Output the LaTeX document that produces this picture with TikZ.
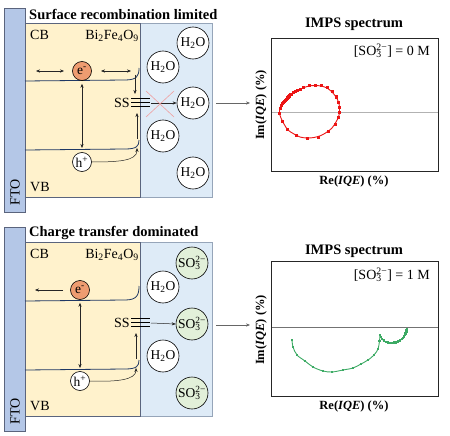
\documentclass[tikz,border=0pt]{standalone}
\usepackage{fontspec}
\setmainfont{Liberation Serif}
\usetikzlibrary{arrows.meta}
\definecolor{ftoblue}{RGB}{180,199,231}
\definecolor{ftoedge}{RGB}{90,100,125}
\definecolor{ybox}{RGB}{255,242,204}
\definecolor{bbox}{RGB}{222,235,247}
\definecolor{bedge}{RGB}{150,165,185}
\definecolor{band}{RGB}{31,56,100}
\definecolor{eorange}{RGB}{238,156,112}
\definecolor{sogreen}{RGB}{226,240,217}
\definecolor{crossred}{RGB}{240,160,160}
\definecolor{curvered}{RGB}{236,20,20}
\definecolor{curvegreen}{RGB}{60,170,100}
\newcommand\ionss[2]{\rlap{\textsubscript{#1}}\textsuperscript{#2}}
\tikzset{
  lbl/.style={font=\fontsize{14}{16}\selectfont, inner sep=0},
  ttl/.style={font=\fontsize{14.5}{17}\selectfont\bfseries, inner sep=0},
  axl/.style={font=\fontsize{12.5}{15}\selectfont\bfseries, inner sep=0},
  mol/.style={circle, draw=black, line width=0.6pt, fill=white, minimum size=32pt, inner sep=0, font=\fontsize{13.5}{15}\selectfont},
  ion/.style={mol, fill=sogreen},
  carrier/.style={circle, draw=black, line width=0.6pt, minimum size=19pt, inner sep=0, font=\fontsize{13.5}{15}\selectfont},
  arr/.style={-{Stealth[length=4pt,width=3.2pt]}, line width=0.5pt, black!85},
  darr/.style={{Stealth[length=4pt,width=3.2pt]}-{Stealth[length=4pt,width=3.2pt]}, line width=0.5pt, black!85},
  bandline/.style={band, line width=0.8pt},
  plotbox/.style={draw=black!85, line width=0.9pt, inner sep=0},
  ssline/.style={line width=0.8pt, black}
}
\begin{document}
\begin{tikzpicture}[x=1pt,y=-1pt]
\useasboundingbox (0,0) rectangle (450,436);
% ================= TOP PANEL =================
\node[ttl, anchor=west] (ttitle) at (29,14) {Surface recombination limited};
\fill[bbox] (140,23) rectangle (212,197);
\draw[bedge, line width=0.5pt] (140,23) rectangle (212,197);
\fill[ybox] (25,23) rectangle (140,197);
\draw[ftoedge, line width=0.8pt] (25,23) rectangle (140,197);
\draw[ftoedge, line width=0.8pt, fill=ftoblue] (4,8) rectangle (25,212);
\node[lbl, rotate=90] (tfto) at (15,192) {FTO};
\node[lbl, anchor=west] (tcb) at (30,35) {CB};
\node[lbl, anchor=west] (tvb) at (30,187) {VB};
\node[lbl, anchor=east] (tbfo) at (139,36) {Bi\textsubscript{2}Fe\textsubscript{4}O\textsubscript{9}};
\draw[bandline] (25,81) -- (125,80) .. controls (137,80) and (139,76) .. (139,68);
\draw[bandline] (25,150) -- (125,149) .. controls (137,149) and (139,146) .. (139,140);
\node[carrier, fill=eorange] (te) at (82,71) {e\textsuperscript{-}};
\node[carrier, fill=white] (th) at (82,162) {h\textsuperscript{+}};
\coordinate (teL) at (36,71);
\coordinate (teLi) at (64,71);
\coordinate (teR) at (131,71);
\coordinate (teRi) at (101,71);
\draw[darr] (teL) -- (teLi);
\draw[darr] (teRi) -- (teR);
\draw[darr] (te.south) ++(0,3) -- (82,148);
\node[lbl] (tss) at (122,103) {SS};
\draw[ssline] (131,98.5) -- (150,98.5);
\draw[ssline] (131,102.5) -- (150,102.5);
\draw[ssline] (131,106.5) -- (150,106.5);
\coordinate (tssR) at (151,103);
\coordinate (tcbdn) at (135,75);
\coordinate (tssT) at (135,94);
\draw[arr] (tcbdn) -- (tssT);
\coordinate (tvbup) at (137,139);
\coordinate (tssB) at (137,113);
\draw[arr] (tvbup) -- (tssB);
\draw[arr] (th.east) .. controls (118,162) and (137,161) .. (137,148);
\node[mol] (tw1) at (193,43) {H\textsubscript{2}O};
\node[mol] (tw2) at (163,67) {H\textsubscript{2}O};
\node[mol] (tw3) at (193,103) {H\textsubscript{2}O};
\node[mol] (tw4) at (163,136) {H\textsubscript{2}O};
\node[mol] (tw5) at (193,173) {H\textsubscript{2}O};
\draw[arr] (tssR) -- (tw3.west);
\draw[crossred, line width=0.6pt] (146,91) -- (174,117) (146,117) -- (174,91);
\coordinate (tarA) at (216,103);
\coordinate (tarB) at (250,103);
\draw[arr, black!60] (tarA) -- (tarB);
% top plot
\node[ttl] (tptitle) at (354,24) {IMPS spectrum};
\draw[black!30, line width=0.8pt] (271,112) -- (438,112);
\node[plotbox, minimum width=167pt, minimum height=133pt] (tplot) at (354.5,104.5) {};
\node[lbl, anchor=east] (tconc) at (430,51) {[SO\ionss{3}{2−}] = 0 M};
\node[axl, rotate=90] (tylab) at (261,105) {Im(\textit{IQE}) (\%)};
\node[axl] (txlab) at (354,181) {Re(\textit{IQE}) (\%)};
\draw[curvered, line width=0.9pt] plot[smooth cycle, tension=0.55] coordinates {
 (280,108) (282,103) (285,100) (288,97) (293,93) (297,91) (303,88) (309,86) (315,85.5) (321,86) (327,88) (332,92) (336,97) (338.5,102) (339.5,107) (339.5,112) (338.5,117) (336,122) (332,128) (327,132) (321,135.5) (314,137.5) (307,138) (300,137) (294,134) (288,130) (284,124) (281,118) (279.5,113)};
\foreach \px/\py in {280/108, 281/105, 282/103, 283/102, 284/101, 285/100, 286/99, 287/98, 288/97, 289/96, 290/95, 291/94.5, 293/93, 295/92, 297/91, 300/89.5, 303/88, 309/86, 315/85.5, 321/86, 327/88, 332/92, 336/97, 338.5/102, 339.5/107, 339.5/112, 338.5/117, 335/124, 328/131, 318/137, 307/138, 296/135, 287/129, 282/121, 279.5/113}
  \fill[curvered] (\px-1.5,\py-1.5) rectangle (\px+1.5,\py+1.5);
% ================= BOTTOM PANEL =================
\begin{scope}[shift={(0,219)}]
\node[ttl, anchor=west] (bttitle) at (29,14) {Charge transfer dominated};
\fill[bbox] (140,23) rectangle (212,197);
\draw[bedge, line width=0.5pt] (140,23) rectangle (212,197);
\fill[ybox] (25,23) rectangle (140,197);
\draw[ftoedge, line width=0.8pt] (25,23) rectangle (140,197);
\draw[ftoedge, line width=0.8pt, fill=ftoblue] (4,8) rectangle (25,212);
\node[lbl, rotate=90] (bfto) at (15,192) {FTO};
\node[lbl, anchor=west] (bcb) at (30,35) {CB};
\node[lbl, anchor=west] (bvb) at (30,187) {VB};
\node[lbl, anchor=east] (bbfo) at (139,36) {Bi\textsubscript{2}Fe\textsubscript{4}O\textsubscript{9}};
\draw[bandline] (25,82) -- (125,81) .. controls (137,81) and (139,76) .. (139,67);
\draw[bandline] (25,151) -- (125,150) .. controls (137,150) and (139,147) .. (139,141);
\node[carrier, fill=eorange] (be) at (80,71) {e\textsuperscript{-}};
\node[carrier, fill=white] (bh) at (80,162) {h\textsuperscript{+}};
\coordinate (beL) at (35,71);
\coordinate (beLi) at (63,71);
\draw[arr] (beLi) -- (beL);
\draw[darr] (be.south) ++(0,3) -- (80,149);
\node[lbl] (bss) at (122,104) {SS};
\draw[ssline] (131,99.5) -- (150,99.5);
\draw[ssline] (131,103.5) -- (150,103.5);
\draw[ssline] (131,107.5) -- (150,107.5);
\coordinate (bssR) at (151,104);
\coordinate (bvbup) at (136,140);
\coordinate (bssB) at (136,114);
\draw[arr] (bvbup) -- (bssB);
\draw[arr] (bh.east) .. controls (116,163) and (136,161) .. (136,149);
\node[ion] (bs1) at (192,44) {SO\ionss{3}{2−}};
\node[mol] (bw2) at (163,68) {H\textsubscript{2}O};
\node[ion] (bs3) at (192,105) {SO\ionss{3}{2−}};
\node[mol] (bw4) at (163,137) {H\textsubscript{2}O};
\node[ion] (bs5) at (192,174) {SO\ionss{3}{2−}};
\draw[arr] (bssR) -- (bs3.west);
\coordinate (barA) at (216,106);
\coordinate (barB) at (250,106);
\draw[arr, black!60] (barA) -- (barB);
\end{scope}
% bottom plot
\node[ttl] (bptitle) at (354,251) {IMPS spectrum};
\draw[black!55, line width=0.7pt] (271,327) -- (438,327);
\node[plotbox, minimum width=167pt, minimum height=135pt] (bplot) at (354.5,328.5) {};
\node[lbl, anchor=east] (bconc) at (430,275) {[SO\ionss{3}{2−}] = 1 M};
\node[axl, rotate=90] (bylab) at (261,330) {Im(\textit{IQE}) (\%)};
\node[axl] (bxlab) at (354,406) {Re(\textit{IQE}) (\%)};
\draw[curvegreen, line width=0.9pt] plot[smooth, tension=0.55] coordinates {
 (292,340) (293,347) (297,355) (305,361) (313,367) (323,371) (332,372) (343,370) (353,368) (361,364) (368,360) (374,355) (378,349) (379.5,341) (380,335)};
\draw[curvegreen, line width=0.9pt] plot[smooth, tension=0.6] coordinates {
 (380,335) (382,339) (386,342) (392,343) (398,341.5) (403,338) (405.5,334) (407,329)};
\foreach \px/\py in {292/340, 293/347, 297/355, 305/361, 313/367, 323/371, 332/372, 343/370, 353/368, 361/364, 368/360, 374/355, 378/349, 379.5/341, 380/335, 381/337, 382/339, 384/340.5, 386/342, 388/342.5, 390/343, 392/343, 394/342.8, 396/342.3, 398/341.5, 400/340.3, 402/339, 403/338, 404/336.5, 405/335, 405.7/333.5, 406.3/332, 406.8/330.5, 407/329}
  \fill[curvegreen] (\px-1.4,\py-1.4) rectangle (\px+1.4,\py+1.4);
\end{tikzpicture}
\end{document}
